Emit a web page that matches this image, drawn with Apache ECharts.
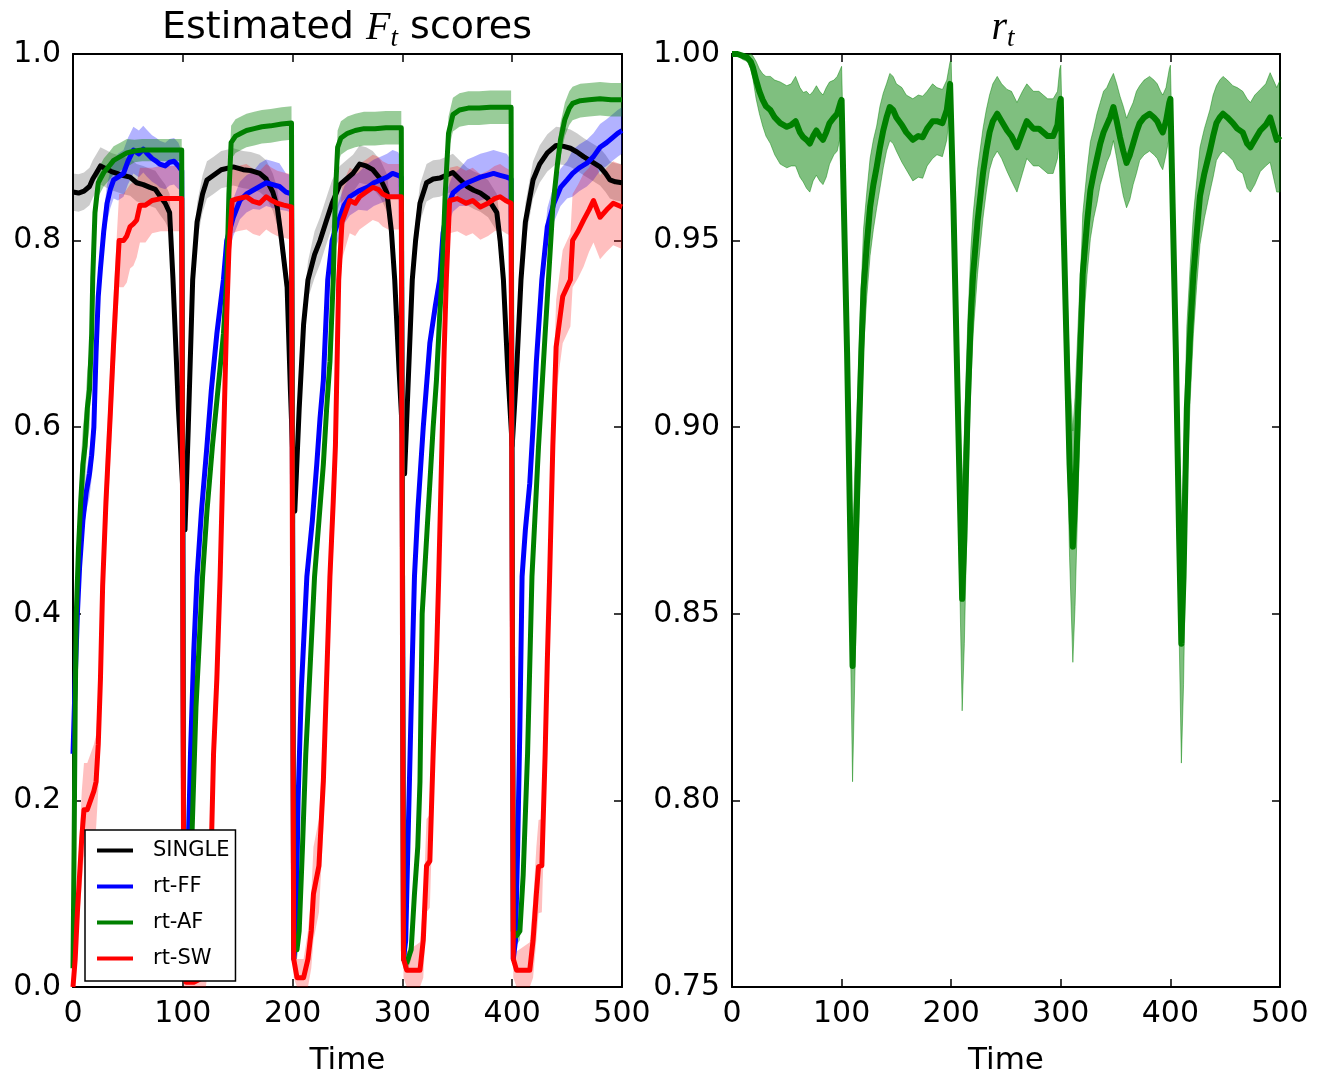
<!DOCTYPE html>
<html>
<head>
<meta charset="utf-8">
<script src="https://cdn.jsdelivr.net/npm/echarts@6/dist/echarts.min.js"></script>
<style>html,body{margin:0;padding:0;background:#fff}#c{width:1329px;height:1081px}</style>
</head>
<body>
<div id="c"></div>
<script>
// ---------- Left panel: Estimated F_t scores ----------
const xTicks = [0, 100, 200, 300, 400, 500];

const singleT = [0,5,10,15,18,21,25,30,35,40, 45,52,58,64,70,75,79,84,88,91, 96,102,105,109,113,118,122,128,135,146,
  155,162,170,176,182,186,190,195,198,202, 206,210,214,220,225,231,236,243,249,255, 261,267,273,280,286,290,293,297,302,305,
  309,312,316,322,328,334,340,346,352,359, 365,371,378,386,389,392,396,400,404,408, 412,419,425,432,440,447,453,459,465,472,
  480,485,489,494,500];
const singleV = [.852,.851,.853,.858,.866,.872,.880,.877,.874,.872, .870,.868,.862,.860,.857,.855,.848,.840,.830,.760,
  .620,.490,.600,.758,.820,.850,.865,.870,.876,.879, .876,.875,.872,.866,.852,.836,.800,.750,.640,.510,
  .620,.710,.758,.785,.800,.822,.840,.860,.866,.872, .882,.880,.876,.866,.851,.810,.758,.660,.550,.640,
  .758,.800,.840,.862,.866,.867,.870,.873,.866,.858, .854,.851,.845,.830,.800,.758,.660,.580,.660,.758,
  .820,.865,.882,.894,.902,.901,.899,.895,.890,.885, .879,.872,.865,.863,.862];
const singleSd = [.02,.02,.02,.02,.02,.02,.02,.02,.02,.02, .02,.02,.02,.02,.02,.02,.02,.02,.02,.02,
  .02,.02,.02,.02,.02,.02,.02,.02,.02,.02, .02,.02,.02,.02,.02,.02,.02,.02,.02,.02,
  .02,.02,.02,.025,.025,.025,.025,.02,.02,.02, .02,.02,.02,.02,.02,.02,.02,.02,.02,.02,
  .02,.02,.02,.02,.02,.02,.02,.02,.02,.02, .02,.02,.02,.02,.02,.02,.02,.02,.02,.02,
  .02,.02,.02,.02,.02,.02,.02,.02,.02,.02, .02,.02,.02,.02,.02];

const ffT = [0,2,4,6,9,12,15,17,19,21, 23,25,28,31,34,37,41,46,50,55, 60,64,67,72,76,79,84,88,92,96,
  99,100,101,103,105,107,110,113,117,122, 126,131,137,140,146,152,158,164,170,176, 182,188,194,199,200,201,203,205,208,213,
  218,222,225,228,232,236,240,243,247,252, 260,268,274,280,286,291,296,299,300,301, 303,305,307,309,311,314,319,325,330,334,
  337,341,346,352,359,365,371,377,383,389, 395,399,400,401,403,405,407,409,412,416, 419,422,427,432,438,444,450,455,461,468,
  474,480,486,492,496,500];
const ffV = [.25,.33,.40,.45,.50,.53,.55,.57,.60,.68, .74,.77,.81,.84,.855,.865,.868,.872,.885,.897,
  .893,.898,.894,.888,.885,.882,.880,.884,.885,.880, .875,.50,.03,.04,.15,.25,.36,.44,.51,.58,
  .64,.70,.758,.80,.825,.843,.850,.854,.858,.862, .860,.858,.852,.850,.50,.03,.05,.20,.32,.44,
  .50,.56,.61,.65,.758,.80,.815,.825,.838,.847, .853,.857,.862,.865,.868,.872,.870,.868,.50,.03,
  .05,.15,.25,.35,.44,.51,.60,.69,.73,.758, .808,.835,.851,.857,.862,.865,.868,.870,.872,.870,
  .868,.866,.50,.03,.05,.15,.28,.44,.49,.54, .60,.67,.758,.815,.840,.857,.865,.872,.878,.883,
  .890,.900,.905,.911,.915,.918];
const ffSd = [.02,.02,.02,.02,.02,.02,.025,.025,.025,.025, .02,.02,.02,.02,.02,.02,.025,.025,.025,.025,
  .025,.025,.025,.025,.025,.025,.025,.025,.025,.025, .02,.01,.01,.01,.01,.01,.01,.01,.01,.01,
  .01,.015,.015,.02,.02,.02,.02,.02,.025,.025, .025,.025,.02,.02,.01,.01,.01,.01,.01,.01,
  .01,.01,.01,.015,.015,.02,.02,.02,.02,.02, .02,.025,.025,.025,.025,.025,.025,.02,.01,.01,
  .01,.01,.01,.01,.01,.01,.01,.01,.015,.015, .02,.02,.02,.02,.025,.025,.025,.025,.025,.025,
  .025,.02,.01,.01,.01,.01,.01,.01,.01,.01, .01,.01,.015,.02,.02,.02,.02,.025,.025,.025,
  .025,.025,.025,.025,.025,.025];

const afT = [0,1,2,3,5,7,9,11,13,15, 17,18,20,23,28,33,37,43,49,56, 63,70,80,90,99,100,101,103,105,108,
  112,115,118,122,127,132,137,140,142,144, 148,153,158,165,172,180,190,199,200,201, 204,206,209,212,215,220,224,228,231,234,
  237,239,241,244,250,257,265,275,285,299, 300,301,304,308,311,314,316,318,322,325, 328,331,334,336,339,342,346,352,360,370,
  380,390,399,400,401,404,407,410,414,418, 421,424,427,430,433,437,441,444,448,452, 455,462,470,480,490,500];
const afV = [.02,.15,.30,.40,.47,.52,.56,.58,.62,.64, .70,.76,.83,.862,.873,.880,.886,.890,.894,.896,
  .897,.897,.897,.897,.897,.50,.05,.03,.04,.15, .30,.37,.44,.51,.58,.64,.70,.758,.85,.905,
  .912,.915,.918,.920,.922,.923,.925,.926,.50,.04, .04,.06,.15,.25,.32,.44,.50,.56,.62,.67,
  .758,.85,.900,.910,.915,.918,.920,.920,.921,.921, .50,.03,.026,.04,.10,.15,.22,.40,.48,.54,
  .60,.65,.72,.758,.85,.915,.935,.940,.942,.942, .943,.943,.943,.50,.06,.055,.06,.12,.25,.44,
  .51,.58,.64,.70,.758,.836,.880,.908,.930,.942, .947,.950,.951,.952,.951,.951];
const afSd = [.01,.02,.03,.03,.04,.04,.04,.04,.04,.04, .03,.03,.02,.015,.015,.015,.015,.015,.015,.012,
  .012,.012,.012,.012,.012,.01,.01,.01,.01,.01, .01,.01,.01,.01,.01,.01,.01,.01,.015,.018,
  .018,.018,.018,.018,.018,.018,.018,.018,.01,.01, .01,.01,.01,.01,.01,.01,.01,.01,.01,.01,
  .01,.015,.018,.018,.018,.018,.018,.018,.018,.018, .01,.01,.01,.01,.01,.01,.01,.01,.01,.01,
  .01,.01,.01,.01,.015,.018,.018,.018,.018,.018, .018,.018,.018,.01,.01,.01,.01,.01,.01,.01,
  .01,.01,.01,.01,.01,.015,.018,.018,.018,.018, .018,.018,.018,.018,.018,.018];

const swT = [0,2,4,6,8,10,13,16,19,21, 23,25,27,30,34,37,40,42,46,49, 52,55,58,61,66,72,80,90,99,100,
  101,103,110,118,121,124,126,128,131,134, 137,140,142,145,150,158,164,170,176,181, 186,192,199,200,201,204,210,214,217,219,
  224,228,231,234,237,239,242,245,252,257, 261,267,273,278,282,287,292,299,300,301, 304,316,319,322,325,328,331,333,336,338,
  340,343,350,358,364,371,378,384,389,394, 399,400,401,404,416,419,422,424,427,430, 432,434,437,440,446,453,455,460,465,470,
  474,480,486,492,500];
const swV = [0,.03,.08,.12,.16,.19,.19,.20,.21,.22, .26,.33,.43,.52,.615,.69,.758,.80,.80,.805,
  .815,.818,.822,.838,.838,.843,.845,.845,.845,.40, .02,.005,.005,.01,.03,.08,.15,.25,.33,.44,
  .58,.72,.79,.843,.845,.847,.842,.840,.847,.843, .840,.838,.836,.40,.03,.01,.01,.03,.06,.10,
  .13,.22,.33,.44,.52,.58,.758,.82,.843,.840, .847,.852,.857,.855,.850,.847,.847,.847,.40,.03,
  .018,.018,.05,.13,.135,.25,.35,.436,.58,.68, .758,.843,.845,.840,.843,.836,.840,.845,.847,.843,
  .840,.40,.03,.018,.018,.05,.10,.129,.13,.25, .35,.436,.58,.686,.74,.758,.80,.81,.822,.833,
  .843,.825,.833,.840,.836];
const swSd = [.01,.02,.03,.04,.05,.05,.05,.05,.05,.05, .05,.05,.05,.05,.05,.05,.05,.05,.05,.05,
  .045,.045,.04,.04,.04,.035,.035,.035,.035,.02, .02,.02,.02,.03,.04,.05,.05,.05,.05,.05,
  .04,.04,.04,.035,.035,.035,.035,.035,.035,.035, .035,.035,.035,.02,.02,.02,.02,.03,.04,.05,
  .05,.05,.05,.05,.05,.05,.04,.04,.035,.035, .035,.035,.035,.035,.035,.035,.035,.035,.02,.02,
  .02,.03,.04,.05,.05,.05,.05,.05,.04,.04, .04,.035,.035,.035,.035,.035,.035,.035,.035,.035,
  .035,.02,.02,.02,.03,.04,.05,.05,.05,.05, .05,.05,.05,.05,.05,.05,.05,.05,.05,.045,
  .045,.045,.045,.045,.045];

// ---------- Right panel: r_t ----------
const rT = [0,5,10,14,17,19,22,25,28,31, 35,39,44,50,54,58,62,65,68,71, 74,77,80,83,86,89,93,96,99,100,
  102,105,108,110,112,115,118,120,123,126, 129,132,135,138,141,144,147,150,155,159, 165,170,174,178,183,187,192,196,199,200,
  202,205,208,210,212,215,218,220,224,229, 232,235,238,242,246,251,255,260,265,269, 272,275,280,284,288,293,297,299,300,302,
  305,308,311,313,316,319,320,324,327,330, 333,336,339,342,345,348,351,354,357,360, 363,366,369,372,376,381,385,388,391,393,
  396,399,400,402,405,408,410,412,415,418, 421,424,427,431,436,439,442,445,448,452, 457,461,466,470,473,477,482,487,491,494,
  497,500];
const rV = [1.0,1.0,.9995,.999,.998,.9965,.993,.990,.9877,.986, .985,.983,.9815,.9805,.981,.982,.979,.9777,.977,.976,
  .978,.9795,.978,.977,.979,.9815,.983,.984,.987,.9877, .960,.920,.870,.836,.860,.890,.920,.937,.949,.959,
  .965,.9697,.975,.9795,.983,.9858,.985,.983,.981,.979, .977,.978,.9777,.980,.982,.982,.9815,.985,.992,.992,
  .960,.920,.880,.854,.870,.905,.930,.941,.955,.968, .974,.979,.982,.984,.982,.9795,.978,.975,.979,.982,
  .981,.980,.980,.979,.978,.978,.981,.987,.988,.960, .925,.890,.868,.880,.907,.930,.941,.955,.9635,.968,
  .972,.976,.979,.981,.983,.9858,.982,.9777,.974,.9708, .973,.976,.979,.9815,.983,.984,.983,.982,.980,.979,
  .982,.987,.988,.960,.920,.870,.842,.860,.905,.925, .941,.952,.962,.968,.974,.978,.9815,.983,.984,.983,
  .9815,.980,.979,.976,.975,.977,.9795,.981,.983,.980, .977,.978];
const rSd = [.0005,.0005,.001,.001,.002,.003,.005,.006,.007,.008, .009,.010,.011,.011,.011,.012,.012,.012,.013,.013,
  .012,.012,.012,.012,.012,.011,.010,.010,.009,.009, .012,.018,.026,.031,.028,.022,.018,.016,.014,.013,
  .012,.011,.011,.010,.009,.009,.009,.009,.010,.010, .011,.011,.011,.010,.010,.009,.009,.008,.006,.006,
  .012,.018,.025,.030,.028,.022,.018,.016,.014,.012, .011,.010,.010,.010,.010,.011,.012,.012,.011,.010,
  .010,.010,.010,.010,.010,.010,.009,.009,.009,.012, .018,.025,.031,.028,.022,.018,.016,.014,.013,.012,
  .012,.011,.011,.010,.010,.009,.010,.011,.012,.012, .012,.011,.011,.010,.010,.010,.010,.010,.010,.010,
  .009,.009,.009,.012,.018,.026,.032,.029,.022,.018, .016,.014,.013,.012,.011,.011,.010,.010,.010,.010,
  .010,.011,.011,.012,.012,.012,.011,.011,.012,.013, .014,.015];

// ---------- build ----------
const FONT = 'DejaVu Sans';
function pairs(T, V) { return T.map((t, i) => [t, V[i]]); }

function band(name, T, V, S, fill, stroke, xi, yi, yMin, yMax) {
  return {
    type: 'custom', name: name, xAxisIndex: xi, yAxisIndex: yi, silent: true, z: 1,
    animation: false,
    data: [[T[0], V[0]]],
    renderItem: function (params, api) {
      const up = [], lo = [];
      for (let i = 0; i < T.length; i++) {
        up.push(api.coord([T[i], Math.min(V[i] + S[i], yMax)]));
        lo.push(api.coord([T[i], Math.max(V[i] - S[i], yMin)]));
      }
      return {
        type: 'polygon',
        shape: { points: up.concat(lo.reverse()) },
        style: { fill: fill, stroke: stroke, lineWidth: stroke ? 1 : 0 }
      };
    }
  };
}

function line(name, T, V, color, xi, yi, w) {
  return {
    type: 'line', name: name, xAxisIndex: xi, yAxisIndex: yi, data: pairs(T, V),
    symbol: 'none', showSymbol: false, color: color, z: 3, animation: false,
    lineStyle: { width: w, color: color, join: 'round' }
  };
}

function xAx(grid, pos, showLabel, name) {
  return {
    type: 'value', gridIndex: grid, position: pos, min: 0, max: 500, interval: 100,
    axisLine: { show: true, onZero: false, lineStyle: { color: '#000', width: 2 } },
    axisTick: { show: true, inside: true, length: 8, lineStyle: { color: '#000', width: 1.5 } },
    axisLabel: { show: showLabel, fontSize: 30, color: '#000', fontFamily: FONT, margin: 12 },
    splitLine: { show: false },
    name: name || '', nameLocation: 'middle', nameGap: 58,
    nameTextStyle: { fontSize: 31, color: '#000', fontFamily: FONT }
  };
}
function yAx(grid, pos, showLabel, min, max, interval, digits) {
  return {
    type: 'value', gridIndex: grid, position: pos, min: min, max: max, interval: interval,
    axisLine: { show: true, onZero: false, lineStyle: { color: '#000', width: 2 } },
    axisTick: { show: true, inside: true, length: 8, lineStyle: { color: '#000', width: 1.5 } },
    axisLabel: { show: showLabel, fontSize: 30, color: '#000', fontFamily: FONT, margin: 12,
      formatter: v => Number(v).toFixed(digits) },
    splitLine: { show: false }
  };
}

const chart = echarts.init(document.getElementById('c'), null, { renderer: 'canvas' });
chart.setOption({
  backgroundColor: '#fff',
  animation: false,
  title: [
    { text: '{n|Estimated }{i|F}{s|t}{n| scores}', left: 347, top: 4, textAlign: 'center', padding: 0,
      textStyle: { fontWeight: 'normal', rich: {
        n: { fontSize: 38, fontFamily: FONT, fontWeight: 'normal', color: '#000', lineHeight: 48 },
        i: { fontSize: 40, fontFamily: 'Liberation Serif', fontStyle: 'italic', fontWeight: 'normal', color: '#000', lineHeight: 48 },
        s: { fontSize: 27, fontFamily: 'Liberation Serif', fontStyle: 'italic', fontWeight: 'normal', color: '#000', lineHeight: 22, verticalAlign: 'bottom' }
      } } },
    { text: '{i|r}{s|t}', left: 1003, top: 4, textAlign: 'center', padding: 0,
      textStyle: { fontWeight: 'normal', rich: {
        i: { fontSize: 40, fontFamily: 'Liberation Serif', fontStyle: 'italic', fontWeight: 'normal', color: '#000', lineHeight: 48 },
        s: { fontSize: 27, fontFamily: 'Liberation Serif', fontStyle: 'italic', fontWeight: 'normal', color: '#000', lineHeight: 22, verticalAlign: 'bottom' }
      } } }
  ],
  legend: {
    data: ['SINGLE', 'rt-FF', 'rt-AF', 'rt-SW'],
    orient: 'vertical', left: 85, top: 830,
    padding: [10, 6, 12, 12], itemGap: 15, itemWidth: 36, itemHeight: 4, icon: 'rect',
    backgroundColor: '#fff', borderColor: '#000', borderWidth: 1.5, borderRadius: 0,
    textStyle: { fontSize: 21, fontFamily: FONT, color: '#000', padding: [0, 0, 0, 15], lineHeight: 20 }
  },
  grid: [
    { left: 73, top: 54, width: 549, height: 933 },
    { left: 732, top: 54, width: 548, height: 933 }
  ],
  xAxis: [
    xAx(0, 'bottom', true, 'Time'),
    xAx(0, 'top', false),
    xAx(1, 'bottom', true, 'Time'),
    xAx(1, 'top', false)
  ],
  yAxis: [
    yAx(0, 'left', true, 0, 1, 0.2, 1),
    yAx(0, 'right', false, 0, 1, 0.2, 1),
    yAx(1, 'left', true, 0.75, 1, 0.05, 2),
    yAx(1, 'right', false, 0.75, 1, 0.05, 2)
  ],
  series: [
    band('SINGLE band', singleT, singleV, singleSd, 'rgba(0,0,0,0.2)', null, 0, 0, 0, 1),
    band('rt-FF band', ffT, ffV, ffSd, 'rgba(0,0,255,0.3)', null, 0, 0, 0, 1),
    band('rt-AF band', afT, afV, afSd, 'rgba(0,128,0,0.4)', null, 0, 0, 0, 1),
    band('rt-SW band', swT, swV, swSd, 'rgba(255,0,0,0.25)', null, 0, 0, 0, 1),
    line('SINGLE', singleT, singleV, '#000000', 0, 0, 5),
    line('rt-FF', ffT, ffV, '#0000ff', 0, 0, 5),
    line('rt-AF', afT, afV, '#008000', 0, 0, 5),
    line('rt-SW', swT, swV, '#ff0000', 0, 0, 5),
    band('r band', rT, rV, rSd, 'rgba(0,128,0,0.5)', 'rgba(0,128,0,0.45)', 2, 2, 0.75, 1),
    line('r_t', rT, rV, '#008000', 2, 2, 6)
  ]
});
</script>
</body>
</html>
